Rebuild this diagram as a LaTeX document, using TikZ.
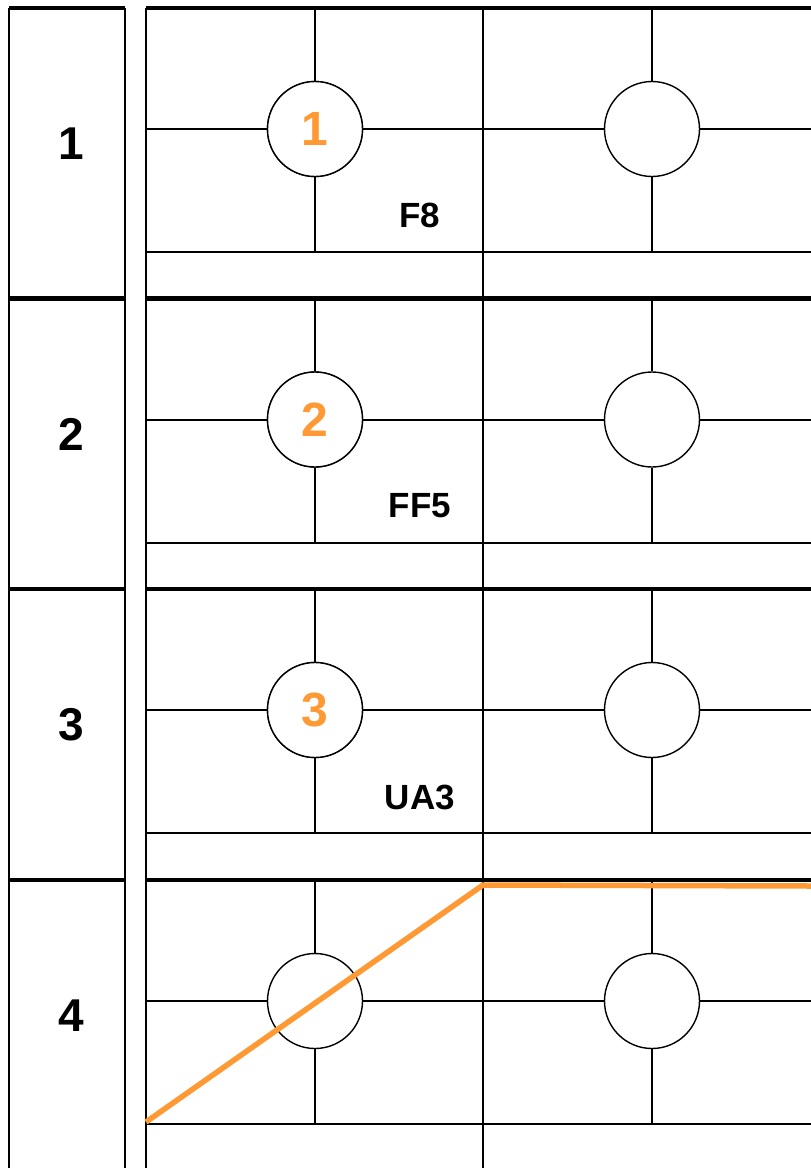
\documentclass[tikz,border=0pt]{standalone}
\usepackage{fontspec}
\setmainfont{Liberation Sans}
\definecolor{orng}{HTML}{FF9933}
\begin{document}
\begin{tikzpicture}[x=1pt,y=-1pt,
  gridline/.style={line width=2pt, black},
  sepline/.style={line width=4.4pt, black},
  circ/.style={circle, draw=black, line width=1.4pt, fill=white, minimum size=95pt, inner sep=0pt,
    text=orng, font=\bfseries\fontsize{48}{48}\selectfont},
  rowlab/.style={inner sep=0pt, font=\bfseries\fontsize{46}{46}\selectfont},
  codelab/.style={inner sep=0pt, font=\bfseries\fontsize{35}{35}\selectfont},
  orangeline/.style={line width=5.5pt, orng, line join=round}]
\useasboundingbox (0,0) rectangle (811,1168);
% left column frame
\draw[gridline] (9,8) -- (9,1168);
\draw[gridline] (125,8) -- (125,1168);
\draw[gridline] (146,8) -- (146,1168);
\draw[gridline] (483,8) -- (483,1168);
% rows
\foreach \r/\t/\num/\code in {1/8/1/F8, 2/298.5/2/FF5, 3/589/3/UA3, 4/880/4/{}} {
  \draw[sepline] (9,\t) -- (125,\t);
  \draw[sepline] (146,\t) -- (811,\t);
  \draw[gridline] (146,\t+244) -- (811,\t+244);
  \coordinate (la\r) at (146,\t+121);
  \coordinate (rb\r) at (811,\t+121);
  \coordinate (ta\r) at (315,\t);
  \coordinate (ba\r) at (315,\t+244);
  \coordinate (tb\r) at (652,\t);
  \coordinate (bb\r) at (652,\t+244);
  \node[circ] (ca\r) at (315,\t+121) {};
  \node[circ] (cb\r) at (652,\t+121) {};
  \draw[gridline] (la\r) -- (ca\r.west);
  \draw[gridline] (ca\r.east) -- (cb\r.west);
  \draw[gridline] (cb\r.east) -- (rb\r);
  \draw[gridline] (ta\r) -- (ca\r.north);
  \draw[gridline] (ca\r.south) -- (ba\r);
  \draw[gridline] (tb\r) -- (cb\r.north);
  \draw[gridline] (cb\r.south) -- (bb\r);
  \node[rowlab] (rl\r) at (71,\t+136) {\num};
}
% circle numbers and codes
\node[circ] at (ca1) {1};
\node[circ] at (ca2) {2};
\node[circ] at (ca3) {3};
\node[codelab] (code1) at (420,215) {F8};
\node[codelab] (code2) at (420,506) {FF5};
\node[codelab] (code3) at (420,797) {UA3};
% orange line
\coordinate (o1) at (146,1122);
\coordinate (o2) at (483,885);
\coordinate (o3) at (811,886);
\draw[orangeline] (o1) -- (o2) -- (o3);
\end{tikzpicture}
\end{document}
